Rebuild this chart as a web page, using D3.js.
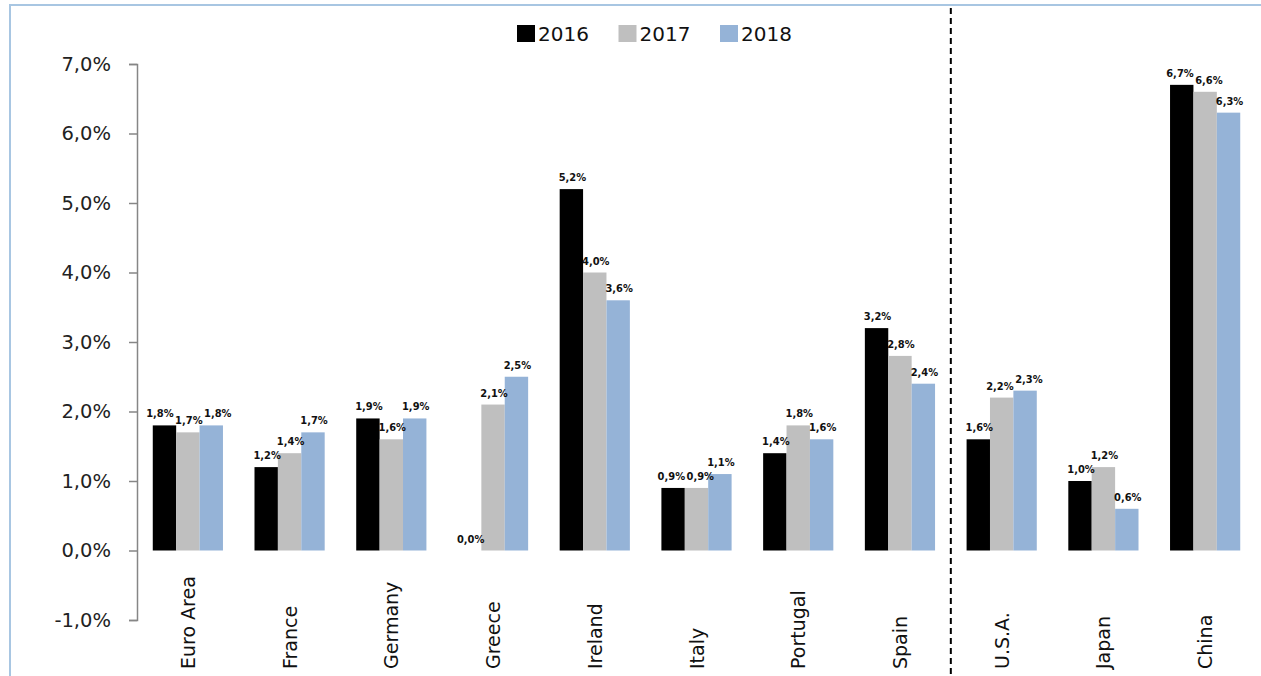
<!DOCTYPE html>
<html><head><meta charset="utf-8">
<script src="https://cdn.jsdelivr.net/npm/d3@7"></script>
<style>body{margin:0;background:#fff}svg{display:block}</style>
</head><body>
<svg id="c" width="1261" height="676"></svg>
<script>
const categories = ["Euro Area","France","Germany","Greece","Ireland","Italy","Portugal","Spain","U.S.A.","Japan","China"];
const seriesNames = ["2016","2017","2018"];
const values2016 = [1.8,1.2,1.9,0.0,5.2,0.9,1.4,3.2,1.6,1.0,6.7];
const values2017 = [1.7,1.4,1.6,2.1,4.0,0.9,1.8,2.8,2.2,1.2,6.6];
const values2018 = [1.8,1.7,1.9,2.5,3.6,1.1,1.6,2.4,2.3,0.6,6.3];
const yTicks = [-1,0,1,2,3,4,5,6,7];
const colors = ["#000000","#bfbfbf","#95b3d7"];

const svg = d3.select("#c");
const series = [values2016, values2017, values2018];

// outer frame
svg.append("rect").attr("x",10).attr("y",5).attr("width",1300).attr("height",720)
  .attr("fill","none").attr("stroke","#a8c6e2").attr("stroke-width",2);

const x0 = d3.scaleBand().domain(categories).range([137,1256]).paddingInner(0.31).paddingOuter(0.155);
const x1 = d3.scaleBand().domain(seriesNames).range([0,x0.bandwidth()]);
const y = d3.scaleLinear().domain([-1,7]).range([620,64]);
const fmt = v => d3.format(".1f")(v).replace(".",",").replace("\u2212","-") + "%";

// y axis
const ax = svg.append("g").attr("transform","translate(137,0)")
  .call(d3.axisLeft(y).tickValues(yTicks).tickSize(8).tickPadding(18).tickFormat(fmt));
ax.select(".domain").attr("stroke","#868686").attr("stroke-width",1.5);
ax.selectAll(".tick line").attr("stroke","#868686").attr("stroke-width",1.5);
ax.selectAll(".tick text").attr("font-family","DejaVu Sans").attr("font-size",19.5).attr("fill","#222");

// bars
const g = svg.append("g");
series.forEach((vals,si)=>{
  g.selectAll(".b"+si).data(vals).join("rect").attr("class","b"+si)
    .attr("x",(d,i)=>x0(categories[i])+x1(seriesNames[si]))
    .attr("y",d=>y(Math.max(0,d)))
    .attr("width",x1.bandwidth())
    .attr("height",d=>Math.abs(y(d)-y(0)))
    .attr("fill",colors[si]);
});

// data labels with simple horizontal de-overlap within each group
const lg2 = svg.append("g");
categories.forEach((c,ci)=>{
  const labs = series.map((vals,si)=>{
    const t = lg2.append("text")
      .attr("text-anchor","middle")
      .attr("font-family","DejaVu Sans Condensed, DejaVu Sans")
      .attr("font-weight","bold")
      .attr("font-size",11)
      .attr("fill","#111")
      .text(fmt(vals[ci]));
    return {t, cx: x0(c)+x1(seriesNames[si])+x1.bandwidth()/2+1, y: y(Math.max(0,vals[ci]))-8, w: t.node().getComputedTextLength()};
  });
  for (let pass=0; pass<4; pass++){
    for (let i=1;i<labs.length;i++){
      const a=labs[i-1], b=labs[i];
      if (Math.abs(a.y-b.y) < 11){
        const need = (a.w+b.w)/2 + 1.5 - (b.cx-a.cx);
        if (need>0){ a.cx -= need/2; b.cx += need/2; }
      }
    }
  }
  labs.forEach(l=>l.t.attr("x",l.cx).attr("y",l.y));
});

// category labels
svg.append("g").selectAll("text").data(categories).join("text")
  .attr("transform",d=>`translate(${x0(d)+x0.bandwidth()/2+7},669) rotate(-90)`)
  .attr("text-anchor","start")
  .attr("font-family","DejaVu Sans")
  .attr("font-size",19)
  .attr("fill","#111")
  .text(d=>d);

// dashed separator between Spain and U.S.A.
const sepX = (x0("Spain")+x0.bandwidth() + x0("U.S.A."))/2;
svg.append("line").attr("x1",sepX).attr("x2",sepX).attr("y1",8).attr("y2",676)
  .attr("stroke","#000").attr("stroke-width",2).attr("stroke-dasharray","6,4");

// legend
const lg = svg.append("g");
seriesNames.forEach((s,i)=>{
  const lx = 517 + i*101.5;
  lg.append("rect").attr("x",lx).attr("y",25).attr("width",18).attr("height",17).attr("fill",colors[i]);
  lg.append("text").attr("x",lx+21).attr("y",41).attr("font-family","DejaVu Sans").attr("font-size",20)
    .attr("fill","#111").text(s);
});
</script>
</body></html>
